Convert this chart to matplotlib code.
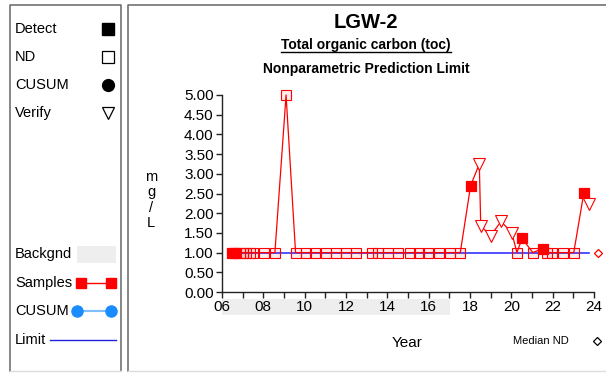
import matplotlib
matplotlib.use("Agg")
import matplotlib.pyplot as plt
from matplotlib.patches import Rectangle
from matplotlib.ticker import FixedLocator, FuncFormatter
import numpy as np

plt.rcParams['font.family'] = ['Liberation Sans', 'DejaVu Sans']

# sample dates (decimal year, 2-digit) and results (mg/L)
years = [6.50, 6.62, 6.87, 7.02, 7.18, 7.35, 7.52, 8.03, 8.56, 9.10,
         9.56, 10.06, 10.51, 11.02, 11.50, 11.98, 12.46, 13.28, 13.53, 14.05,
         14.53, 15.08, 15.55, 15.98, 16.48, 17.03, 17.53, 18.03, 18.45, 18.52,
         19.00, 19.50, 20.02, 20.27, 20.52, 21.04, 21.51, 21.72, 21.98, 22.50,
         23.02, 23.51, 23.76]
values = [1.0, 1.0, 1.0, 1.0, 1.0, 1.0, 1.0, 1.0, 1.0, 5.0,
          1.0, 1.0, 1.0, 1.0, 1.0, 1.0, 1.0, 1.0, 1.0, 1.0,
          1.0, 1.0, 1.0, 1.0, 1.0, 1.0, 1.0, 2.70, 3.25, 1.68,
          1.43, 1.79, 1.51, 1.0, 1.36, 1.0, 1.10, 1.0, 1.0, 1.0,
          1.0, 2.52, 2.23]
# D = detect, N = non-detect, V = verify sample
kinds = list("DDNNNNNNNN" "NNNNNNNNNN" "NNNNNNNDVV" "VVVNDNDNNN" "NDV")

limit = 1.0
median_nd = 1.0
backgnd = (6.0, 17.03)

fig = plt.figure(figsize=(6.06, 3.73), dpi=100)

# overlay in pixel coordinates for frames and legend
bg = fig.add_axes([0, 0, 1, 1])
bg.set_xlim(0, 606)
bg.set_ylim(373, 0)
bg.axis('off')

frame = '#666666'
for x0, x1 in [(10, 121), (128, 607)]:
    bg.plot([x0, x0, x1, x1], [371, 5, 5, 371], color=frame, lw=1.1)
    bg.plot([x0, x1], [371, 371], color='#dddddd', lw=1)

leg_fs = 10.5
for label, y in [('Detect', 29), ('ND', 57), ('CUSUM', 85), ('Verify', 113),
                 ('Backgnd', 254), ('Samples', 283), ('CUSUM', 311), ('Limit', 340)]:
    bg.text(15, y, label, fontsize=leg_fs, va='center', ha='left')
bg.plot(108, 29, marker='s', ms=8, color='black')
bg.plot(108, 57, marker='s', ms=8, mfc='white', mec='black', mew=0.9)
bg.plot(108, 85, marker='o', ms=8.5, color='black')
bg.plot(108, 113, marker='v', ms=9, mfc='white', mec='black', mew=0.9)
bg.add_patch(Rectangle((77, 246), 39, 17, color='#eeeeee', lw=0))
bg.plot([81, 111], [283, 283], color='red', lw=1, marker='s', ms=7.5, mfc='red', mec='red')
bg.plot([77, 111], [311, 311], color='#7fbfff', lw=1.5, marker='o', ms=8, mfc='#1a8cff', mec='#1a8cff')
bg.plot([50, 116], [340, 340], color='#2020dd', lw=1)

# titles
def fy(py):
    return 1 - py / 373.0

fig.text(366 / 606, fy(22), 'LGW-2', fontsize=14.5, fontweight='bold', ha='center', va='center')
sub = fig.text(366 / 606, fy(45), 'Total organic carbon (toc)', fontsize=10,
               fontweight='bold', ha='center', va='center')
fig.text(366 / 606, fy(69), 'Nonparametric Prediction Limit', fontsize=10,
         fontweight='bold', ha='center', va='center')
fig.canvas.draw()
bb = sub.get_window_extent()
inv = bg.transData.inverted()
(ux0, uy0), (ux1, _) = inv.transform([(bb.x0, bb.y0), (bb.x1, bb.y0)])
bg.plot([ux0, ux1], [uy0 - 0.5, uy0 - 0.5], color='black', lw=1)

# main chart
ax = fig.add_axes([222 / 606, 1 - 292 / 373, (594 - 222) / 606, (292 - 95) / 373])
ax.set_facecolor('none')
ax.set_xlim(6, 24)
ax.set_ylim(0, 5)
for s in ['top', 'right']:
    ax.spines[s].set_visible(False)
for s in ['left', 'bottom']:
    ax.spines[s].set_color('#222222')
    ax.spines[s].set_linewidth(1)

ax.xaxis.set_major_locator(FixedLocator(np.arange(6, 25, 2)))
ax.xaxis.set_minor_locator(FixedLocator(np.arange(7, 24, 2)))
ax.xaxis.set_major_formatter(FuncFormatter(lambda v, p: f'{int(round(v)):02d}'))
ax.yaxis.set_major_locator(FixedLocator(np.arange(0, 5.01, 0.5)))
ax.yaxis.set_major_formatter(FuncFormatter(lambda v, p: f'{v:.2f}'))
ax.tick_params(axis='both', labelsize=11, length=4, width=1, color='#222222', pad=2)
ax.tick_params(axis='x', which='minor', length=4, width=1, color='#222222')

# background period band under the axis
ax.add_patch(Rectangle((backgnd[0], -0.117), backgnd[1] - backgnd[0], 0.081,
                       transform=ax.get_xaxis_transform(), color='#eeeeee', lw=0,
                       clip_on=False, zorder=-1))

ax.plot([years[0], years[-1]], [limit, limit], color='#3333ff', lw=1.2, zorder=2)
ax.plot(years, values, color='red', lw=0.9, zorder=3, clip_on=False)

style = {'D': dict(marker='s', ms=7, mfc='red', mec='red', mew=0.9),
         'N': dict(marker='s', ms=6.5, mfc=(1, 0, 0, 0.08), mec='red', mew=0.8),
         'V': dict(marker='v', ms=8, mfc='white', mec='red', mew=0.8)}
for k in ['N', 'D', 'V']:
    xs = [x for x, kk in zip(years, kinds) if kk == k]
    ys = [y for y, kk in zip(values, kinds) if kk == k]
    ax.plot(xs, ys, ls='none', zorder=4, clip_on=False, **style[k])

ax.plot(24.18, median_nd, marker='D', ms=4.5, mfc='white', mec='red', mew=0.9, clip_on=False)

fig.text(151 / 606, fy(200), 'm\ng\n/\nL', fontsize=10.5, ha='center', va='center', linespacing=1.15)
fig.text(407 / 606, fy(343), 'Year', fontsize=11, ha='center', va='center')
fig.text(541 / 606, fy(341), 'Median ND', fontsize=8, ha='center', va='center')
bg.plot(597, 341, marker='D', ms=4.5, mfc='white', mec='black', mew=0.9)

fig.savefig('out.png', dpi=100)
